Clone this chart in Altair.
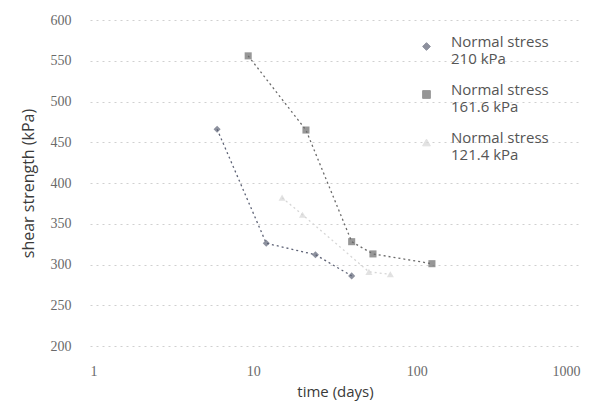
import altair as alt
import pandas as pd

series_names = ["210", "161.6", "121.4"]
t210 = [6, 12, 24, 40]
s210 = [466, 326, 312, 286]
t161 = [9.3, 21, 40, 54, 124]
s161 = [556, 465, 328, 313, 301]
t121 = [15, 20, 51, 69]
s121 = [382, 361, 291, 288]

rows = []
for name, ts, ss in [("210", t210, s210), ("161.6", t161, s161), ("121.4", t121, s121)]:
    for t, s in zip(ts, ss):
        rows.append({"series": name, "time": t, "strength": s})
df = pd.DataFrame(rows)

colors = ["#5d6275", "#6b6b6b", "#d6d6d6"]
shapes = ["diamond", "square", "triangle-up"]

x = alt.X("time:Q", scale=alt.Scale(type="log", domain=[1, 1000]),
          axis=alt.Axis(title="time (days)", values=[1, 10, 100, 1000], format="d",
                        grid=False, domain=False, ticks=False, labelPadding=18,
                        labelFont="Liberation Serif", labelFontSize=14, labelColor="#6a6a6a",
                        titleFont="Open Sans", titleFontSize=15, titleColor="#3a3a3a",
                        titleFontWeight="normal", titlePadding=6))
y = alt.Y("strength:Q", scale=alt.Scale(domain=[200, 600]),
          axis=alt.Axis(title="shear strength (kPa)", values=list(range(200, 601, 50)),
                        grid=True, gridColor="#d0d0d0", gridDash=[2, 4], gridWidth=1,
                        domain=False, ticks=False, labelPadding=19,
                        labelFont="Liberation Serif", labelFontSize=14, labelColor="#6a6a6a",
                        titleFont="Open Sans", titleFontSize=16, titleColor="#3a3a3a",
                        titleFontWeight="normal", titlePadding=14))
legend = alt.Legend(title=None, orient="none", legendX=329, legendY=19,
                    labelExpr="['Normal stress', '      ' + datum.label + ' kPa']",
                    labelFont="Open Sans", labelFontSize=15, labelColor="#555555",
                    labelBaseline="alphabetic", labelOffset=17, rowPadding=15, symbolSize=60,
                    symbolStrokeWidth=1, labelLimit=220)
color = alt.Color("series:N", scale=alt.Scale(domain=series_names, range=colors), legend=legend)
shape = alt.Shape("series:N", scale=alt.Scale(domain=series_names, range=shapes), legend=legend)

lines = alt.Chart(df).mark_line(strokeDash=[2, 3], strokeWidth=1.3).encode(
    x=x, y=y, color=color, detail="series:N")
points = alt.Chart(df).mark_point(filled=True, size=50).encode(
    x=x, y=y, color=color, shape=shape)

chart = (lines + points).properties(
    width=490, height=326, autosize=alt.AutoSizeParams(type="none"),
    padding={"left": 82, "top": 12, "right": 19, "bottom": 58}
).configure_view(stroke=None)

chart.save("out.html", embed_options={"renderer": "svg", "actions": False})
